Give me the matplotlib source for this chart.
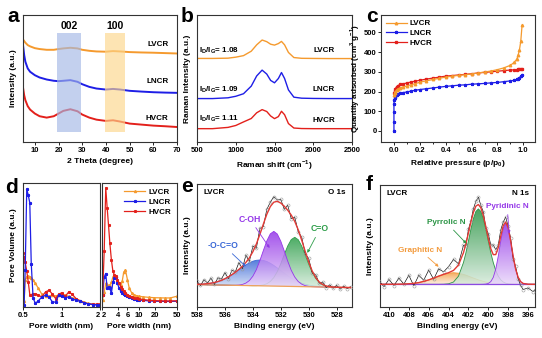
import numpy as np
import matplotlib
matplotlib.use("Agg")
import matplotlib.pyplot as plt
from matplotlib.colors import LinearSegmentedColormap, to_rgb

plt.rcParams.update({
    "font.family": ["Liberation Sans", "DejaVu Sans"],
    "font.weight": "bold",
    "axes.labelweight": "bold",
    "axes.linewidth": 0.8,
    "axes.edgecolor": "#333333",
    "xtick.major.size": 2,
    "xtick.minor.size": 1.2,
    "ytick.major.size": 2,
    "xtick.major.width": 0.6,
    "ytick.major.width": 0.6,
    "xtick.labelsize": 5.5,
    "ytick.labelsize": 5.5,
    "axes.labelsize": 6,
    "xtick.major.pad": 1.5,
    "ytick.major.pad": 1.2,
    "mathtext.fontset": "custom",
    "mathtext.rm": "Liberation Sans:bold",
    "mathtext.bf": "Liberation Sans:bold",
})

C_OR = "#F59A2E"
C_BL = "#1E1EE6"
C_RD = "#E3201B"
samples = ["LVCR", "LNCR", "HVCR"]

# ---------------- (a) XRD ----------------
xrd_2theta = [5, 5.5, 6, 7, 8, 10, 12, 15, 18, 20, 22, 25, 28, 30, 33, 36, 40, 43, 46, 50, 55, 60, 65, 70]
xrd_lvcr = [80.8, 79.5, 78.2, 76.3, 75.3, 73.9, 73.2, 72.6, 72.6, 73.2, 73.7, 74.2, 73.7, 72.6, 71.8, 71.3, 71.1, 71.6, 71.3, 70.8, 70.5, 70.3, 70.0, 69.7]
xrd_lncr = [76.3, 68.4, 63.2, 57.9, 55.3, 52.6, 50.8, 49.2, 48.2, 47.9, 48.2, 48.7, 47.4, 45.5, 43.4, 42.1, 41.3, 41.8, 41.3, 40.3, 39.7, 39.2, 38.9, 38.7]
xrd_hvcr = [42.9, 36.8, 32.9, 28.2, 25.5, 22.4, 20.3, 19.2, 20.3, 22.4, 24.5, 25.8, 24.2, 21.6, 19.2, 17.6, 16.6, 17.1, 16.1, 14.5, 13.7, 12.9, 12.4, 11.8]
xrd_bands = [(19.5, 29.5, "002"), (39.5, 48.0, "100")]

# ---------------- (b) Raman ----------------
raman_shift = [500, 700, 900, 1000, 1100, 1200, 1270, 1340, 1400, 1450, 1500, 1550, 1590, 1630, 1680, 1750, 1850, 2000, 2200, 2500]
raman_lvcr = [65.8, 65.8, 66.0, 66.8, 68.0, 71.5, 76.5, 80.3, 79.0, 77.0, 76.3, 77.5, 79.2, 76.5, 70.5, 66.5, 65.9, 65.8, 65.7, 65.7]
raman_lncr = [34.2, 34.2, 34.8, 36.0, 38.0, 44.0, 52.0, 56.6, 53.5, 48.5, 46.6, 50.0, 54.7, 50.0, 41.0, 35.3, 34.5, 34.3, 34.2, 34.2]
raman_hvcr = [10.5, 10.5, 11.5, 13.0, 15.8, 18.5, 23.0, 25.5, 24.0, 20.5, 18.4, 20.0, 24.2, 21.5, 14.5, 11.0, 10.6, 10.5, 10.5, 10.5]
id_ig = ["1.08", "1.09", "1.11"]

# ---------------- (c) N2 isotherms ----------------
p_rel = [0.002, 0.005, 0.01, 0.02, 0.03, 0.05, 0.07, 0.1, 0.13, 0.16, 0.2, 0.25, 0.3, 0.35, 0.4, 0.45,
         0.5, 0.55, 0.6, 0.65, 0.7, 0.75, 0.8, 0.85, 0.9, 0.93, 0.95, 0.96, 0.97, 0.98, 0.99]
iso_lvcr = [180, 192, 200, 208, 213, 219, 223, 228, 234, 239, 247, 254, 261, 267, 273, 278,
            282, 285, 289, 294, 299, 304, 311, 320, 333, 348, 365, 385, 412, 455, 535]
iso_hvcr = [190, 205, 214, 224, 230, 236, 239, 243, 248, 252, 257, 263, 268, 273, 278, 281,
            284, 287, 290, 294, 297, 300, 303, 306, 309, 310, 311, 312, 312, 313, 314]
p_rel_lncr = [0.0, 0.0, 0.0, 0.0] + p_rel
iso_lncr = [0, 45, 95, 135, 155, 165, 172, 180, 185, 190, 194, 198, 202, 206, 210, 214, 218, 222, 226, 229,
            232, 234, 237, 239, 241, 244, 246, 250, 254, 257, 261, 265, 270, 277, 285]

# ---------------- (d) pore size distribution ----------------
pw_micro = [0.5, 0.51, 0.52, 0.535, 0.55, 0.565, 0.58, 0.6, 0.625, 0.66, 0.7, 0.75, 0.8, 0.85,
            0.9, 0.95, 1.0, 1.07, 1.14, 1.21, 1.3, 1.4, 1.5, 1.6, 1.75, 1.9, 2.0]
pv_micro_lvcr = [3, 5, 22, 24.5, 24.9, 24.5, 23.5, 22, 19, 15, 10.5, 8.6, 9.0, 9.5, 9.0, 9.5, 10.3,
                 9.5, 8.6, 7.5, 6.5, 5, 4, 3, 2.2, 1.8, 1.6]
pv_micro_lncr = [1.0, 1.4, 30, 95, 90, 84, 35, 7, 3, 5, 8, 9.5, 8, 4, 4, 9.5, 8.6, 7.6, 8.1, 6.8,
                 5.4, 4.5, 3.5, 2.7, 2.0, 1.7, 1.6]
pv_micro_hvcr = [43.8, 40, 36, 29, 20, 10, 10, 10.5, 10.8, 9.5, 8.1, 12.2, 13.5, 10.3, 6.8, 10.3,
                 11.4, 8.6, 12.2, 10.3, 6.8, 4.9, 3.5, 2.7, 2.2, 2.2, 2.2]
pw_meso = [2.05, 2.2, 2.35, 2.5, 2.65, 2.8, 3.0, 3.2, 3.4, 3.65, 3.9, 4.2, 4.5, 4.8, 5.1, 5.5, 6.0,
           6.5, 7.2, 8.0, 9.0, 10, 12, 15, 19, 24, 30, 38, 50]
pv_meso_lvcr = [6, 12, 19, 18, 17.5, 17, 20, 24, 25.5, 25, 22, 19, 17.5, 21, 28, 30, 22, 15, 11.5,
                10, 9, 8.6, 8.2, 7.8, 7.5, 7.4, 7.3, 7.3, 8.6]
pv_meso_lncr = [10, 24, 27, 15, 16, 15, 11, 20, 23, 24, 19, 15, 13, 11.5, 10.5, 9.5, 8.5, 7.8, 7,
                6.5, 6, 5.7, 5.3, 5, 4.7, 4.6, 4.5, 4.5, 4.6]
pv_meso_hvcr = [10, 45, 96, 80, 66, 52, 38, 29, 26, 25, 22, 19, 16.5, 14.5, 13, 11.5, 10, 9, 8.2,
                7.5, 7, 6.5, 6, 5.5, 5.2, 5, 4.9, 4.9, 5.0]

# ---------------- (e) O 1s ----------------
o1s_be = [538.0, 537.75, 537.5, 537.25, 537.0, 536.75, 536.5, 536.25, 536.0, 535.75, 535.5, 535.25,
          535.0, 534.75, 534.5, 534.25, 534.0, 533.75, 533.5, 533.25, 533.0, 532.75, 532.5, 532.25,
          532.0, 531.75, 531.5, 531.25, 531.0, 530.75, 530.5, 530.25, 530.0, 529.75, 529.5, 529.25,
          529.0, 528.75, 528.5, 528.25, 528.0, 527.75, 527.5, 527.25, 527.0]
o1s_bg = [18.20, 18.15, 18.09, 18.04, 17.98, 17.93, 17.87, 17.82, 17.76, 17.71, 17.65, 17.60, 17.55,
          17.49, 17.44, 17.38, 17.33, 17.27, 17.22, 17.16, 17.11, 17.05, 17.00, 16.95, 16.89, 16.84,
          16.78, 16.73, 16.67, 16.62, 16.56, 16.51, 16.45, 16.40, 16.35, 16.29, 16.24, 16.18, 16.13,
          16.07, 16.02, 15.96, 15.91, 15.85, 15.80]
o1s_ococ = [0.23, 0.38, 0.60, 0.92, 1.4, 2.0, 2.8, 3.9, 5.2, 6.8, 8.6, 10.6, 12.7, 14.8, 16.8, 18.5,
            19.9, 20.7, 21.0, 20.7, 19.9, 18.5, 16.8, 14.8, 12.7, 10.6, 8.6, 6.8, 5.2, 3.9, 2.8, 2.0,
            1.4, 0.92, 0.60, 0.38, 0.23, 0.14, 0.08, 0.05, 0.03, 0.02, 0.01, 0.0, 0.0]
o1s_coh = [0, 0, 0, 0, 0, 0, 0, 0, 0, 0, 0.04, 0.12, 0.34, 0.85, 2.0, 4.1, 7.7, 13.1, 20.4, 28.7,
           36.6, 42.4, 44.5, 42.4, 36.6, 28.7, 20.4, 13.1, 7.7, 4.1, 2.0, 0.85, 0.34, 0.12, 0.04,
           0, 0, 0, 0, 0, 0, 0, 0, 0, 0]
o1s_co = [0, 0, 0, 0, 0, 0, 0, 0, 0, 0, 0, 0, 0, 0, 0, 0, 0, 0.1, 0.3, 0.77, 1.8, 3.7, 6.9, 11.8,
          18.3, 25.8, 32.9, 38.1, 40.0, 38.1, 32.9, 25.8, 18.3, 11.8, 6.9, 3.7, 1.8, 0.77, 0.3, 0.1,
          0, 0, 0, 0, 0]
o1s_raw = [20.9, 17.5, 22.2, 19.5, 23.4, 18.4, 23.7, 22.7, 28.0, 23.0, 29.8, 28.8, 36.1, 31.1, 42.2,
           37.0, 49.4, 47.7, 63.9, 65.3, 79.4, 85.2, 89.7, 87.0, 87.5, 79.4, 82.7, 71.7, 73.1, 61.2,
           56.8, 43.2, 39.5, 27.7, 26.4, 19.4, 20.3, 15.6, 18.0, 15.2, 17.6, 14.5, 16.9, 14.9, 16.6]

# ---------------- (f) N 1s ----------------
n1s_be = [411.0, 410.5, 410.0, 409.5, 409.0, 408.5, 408.0, 407.5, 407.0, 406.5, 406.0, 405.5, 405.0,
          404.5, 404.0, 403.5, 403.0, 402.5, 402.25, 402.0, 401.75, 401.5, 401.25, 401.0, 400.75,
          400.5, 400.25, 400.0, 399.75, 399.5, 399.25, 399.0, 398.75, 398.5, 398.25, 398.0, 397.75,
          397.5, 397.25, 397.0, 396.75, 396.5, 396.0, 395.5, 395.0]
n1s_bg = 18.6
n1s_graphitic = [0.0, 0.0, 0.01, 0.04, 0.09, 0.20, 0.42, 0.80, 1.4, 2.4, 3.6, 5.1, 6.7, 8.1, 9.1, 9.5,
                 9.1, 8.1, 7.5, 6.7, 5.9, 5.1, 4.4, 3.6, 3.0, 2.4, 1.9, 1.4, 1.1, 0.80, 0.59, 0.42,
                 0.29, 0.20, 0.13, 0.09, 0.06, 0.04, 0.02, 0.01, 0.0, 0.0, 0.0, 0.0, 0.0]
n1s_pyrrolic = [0, 0, 0, 0, 0, 0, 0, 0, 0, 0, 0, 0, 0, 0.07, 0.42, 1.9, 6.7, 17.8, 25.9, 35.4, 45.2,
                53.8, 59.7, 61.8, 59.7, 53.8, 45.2, 35.4, 25.9, 17.8, 11.3, 6.7, 3.7, 1.9, 0.94, 0.42,
                0.18, 0.07, 0.03, 0, 0, 0, 0, 0, 0]
n1s_pyridinic = [0, 0, 0, 0, 0, 0, 0, 0, 0, 0, 0, 0, 0, 0, 0, 0, 0, 0, 0, 0, 0, 0, 0, 0, 0, 0.05,
                 0.20, 0.71, 2.2, 5.7, 12.5, 22.9, 35.4, 45.9, 50.0, 45.9, 35.4, 22.9, 12.5, 5.7, 2.2,
                 0.71, 0.05, 0, 0]
n1s_raw = [21.6, 16.6, 22.6, 17.6, 23.7, 18.8, 26.0, 17.4, 26.0, 22.0, 30.2, 22.7, 31.3, 28.8, 33.1,
           39.0, 35.4, 50.5, 50.0, 63.7, 70.7, 80.5, 86.6, 90.0, 83.3, 77.9, 64.9, 60.1, 50.8, 50.9,
           47.0, 50.6, 63.0, 69.6, 73.7, 66.0, 56.3, 39.6, 33.2, 23.3, 17.8, 14.3, 15.6, 12.6, 16.6]

# ---------------- figure ----------------
W, H = 542, 338
fig = plt.figure(figsize=(W / 100, H / 100), dpi=100)


def box(l, t, r, b):
    return [l / W, 1 - b / H, (r - l) / W, (b - t) / H]


def letter(x, y, s):
    fig.text(x / W, 1 - y / H, s, fontsize=15, fontweight="bold", ha="center", va="center")


def grad_fill(ax, x, lo, hi, color, z):
    x = np.asarray(x, float)
    lo = np.asarray(lo, float)
    hi = np.asarray(hi, float)
    poly = ax.fill_between(x, lo, hi, facecolor="none", edgecolor="none", zorder=z)
    c = np.array(to_rgb(color))
    cmap = LinearSegmentedColormap.from_list("g", [c + (1 - c) * 0.8, c])
    im = ax.imshow(np.linspace(0, 1, 64).reshape(-1, 1),
                   extent=(x.min(), x.max(), lo.min(), hi.max()),
                   origin="lower", aspect="auto", cmap=cmap, alpha=0.85,
                   zorder=z, interpolation="bilinear")
    im.set_clip_path(poly.get_paths()[0], transform=ax.transData)
    ax.plot(x, hi, color=color, lw=0.6, zorder=z + 0.1)


# (a)
ax = fig.add_axes(box(23, 15, 177, 142))
for y, c in zip([xrd_lvcr, xrd_lncr, xrd_hvcr], [C_OR, C_BL, C_RD]):
    ax.plot(xrd_2theta, y, color=c, lw=1.4, zorder=2)
band_cols = ["#A3B8E6", "#FDD68A"]
for (lo, hi, lab), bc in zip(xrd_bands, band_cols):
    ax.axvspan(lo, hi, ymin=0.079, ymax=0.855, color=bc, alpha=0.65, lw=0, zorder=3)
    ax.text((lo + hi) / 2, 91.5, lab, ha="center", va="center", fontsize=7.5, fontweight="bold")
for s, yy in zip(samples, [77.0, 47.4, 18.4]):
    ax.text(66.5, yy, s, ha="right", va="center", fontsize=5.8, fontweight="bold")
ax.set_xlim(5, 70)
ax.set_ylim(0, 100)
ax.set_yticks([])
ax.set_xticks([10, 20, 30, 40, 50, 60, 70])
ax.set_xlabel("2 Theta (degree)", labelpad=3)
ax.set_ylabel("Intensity (a.u.)", labelpad=4)
letter(13, 16, "a")

# (b)
ax = fig.add_axes(box(197, 15, 352, 142))
for y, c in zip([raman_lvcr, raman_lncr, raman_hvcr], [C_OR, C_BL, C_RD]):
    ax.plot(raman_shift, y, color=c, lw=1.0)
for r, yy in zip(id_ig, [71.8, 41.3, 18.4]):
    ax.text(530, yy, r"I$_\mathbf{D}$/I$_\mathbf{G}$= " + r, ha="left", va="center", fontsize=5.8)
for s, yy in zip(samples, [71.8, 41.3, 17.0]):
    ax.text(2140, yy, s, ha="center", va="center", fontsize=5.8, fontweight="bold")
ax.set_xlim(500, 2500)
ax.set_ylim(0, 100)
ax.set_yticks([])
ax.set_xticks([500, 1000, 1500, 2000, 2500])
ax.set_xlabel(r"Raman shift (cm$^{\mathbf{-1}}$)", labelpad=3)
ax.set_ylabel("Raman Intensity (a.u.)", labelpad=4)
letter(187, 16, "b")

# (c)
ax = fig.add_axes(box(381, 15, 535, 142))
ax.plot(p_rel, iso_lvcr, color=C_OR, lw=0.9, marker="^", ms=1.8, label="LVCR", zorder=3)
ax.plot(p_rel_lncr, iso_lncr, color=C_BL, lw=0.9, marker="*", ms=2.2, label="LNCR", zorder=2)
ax.plot(p_rel, iso_hvcr, color=C_RD, lw=0.9, marker="s", ms=1.4, label="HVCR", zorder=2)
ax.set_xlim(-0.1, 1.09)
ax.set_ylim(-56, 588)
ax.set_xticks([0.0, 0.2, 0.4, 0.6, 0.8, 1.0])
ax.set_xticks([0.1, 0.3, 0.5, 0.7, 0.9], minor=True)
ax.set_yticks([0, 100, 200, 300, 400, 500])
ax.set_xlabel(r"Relative pressure (p/p$_{\mathbf{0}}$)", labelpad=3)
ax.set_ylabel(r"Quantity adsorbed (cm$^{\mathbf{3}}$ g$^{\mathbf{-1}}$)", labelpad=1, fontsize=5.8)
ax.legend(loc="upper left", frameon=False, fontsize=5.8, handlelength=2.6,
          borderaxespad=0.2, labelspacing=0.25, handletextpad=0.4)
letter(372, 16, "c")

# (d) micropores
axl = fig.add_axes(box(23, 183, 100, 307))
axl.plot(pw_micro, pv_micro_lvcr, color=C_OR, lw=0.9, marker="^", ms=1.5)
axl.plot(pw_micro, pv_micro_hvcr, color=C_RD, lw=0.9, marker="s", ms=1.2)
axl.plot(pw_micro, pv_micro_lncr, color=C_BL, lw=0.9, marker="*", ms=2.0)
axl.set_xscale("log")
axl.set_xlim(0.5, 2.0)
axl.set_ylim(0, 100)
axl.set_xticks([0.5, 1, 2])
axl.set_xticklabels(["0.5", "1", "2"])
axl.get_xticklabels()[-1].set_horizontalalignment("right")
axl.xaxis.set_minor_locator(matplotlib.ticker.NullLocator())
axl.set_yticks([])
axl.set_xlabel("Pore width (nm)", labelpad=3)
axl.set_ylabel("Pore Volume (a.u.)", labelpad=4)

# (d) mesopores
axr = fig.add_axes(box(102, 183, 177, 307))
axr.plot(pw_meso, pv_meso_lvcr, color=C_OR, lw=0.9, marker="^", ms=1.5, label="LVCR")
axr.plot(pw_meso, pv_meso_lncr, color=C_BL, lw=0.9, marker="*", ms=2.0, label="LNCR")
axr.plot(pw_meso, pv_meso_hvcr, color=C_RD, lw=0.9, marker="s", ms=1.2, label="HVCR")
axr.set_xscale("log")
axr.set_xlim(2.0, 51)
axr.set_ylim(0, 100)
axr.set_xticks([2, 4, 6, 10, 20, 50])
axr.set_xticklabels(["2", "4", "6", "10", "20", "50"])
axr.get_xticklabels()[0].set_horizontalalignment("left")
axr.xaxis.set_minor_locator(matplotlib.ticker.NullLocator())
axr.set_yticks([])
axr.set_xlabel("Pore width (nm)", labelpad=3)
axr.legend(loc="upper right", frameon=False, fontsize=5.8, handlelength=2.6,
           borderaxespad=0.3, labelspacing=0.25, handletextpad=0.4)
letter(12, 187, "d")

# (e) O 1s
C_EB, C_EP, C_EG = "#3A68D6", "#9436E8", "#2E9E4A"
ax = fig.add_axes(box(197, 184, 352, 307))
bg = np.array(o1s_bg)
comps = [np.array(o1s_ococ), np.array(o1s_coh), np.array(o1s_co)]
grad_fill(ax, o1s_be, bg, bg + comps[0], C_EB, 2)
grad_fill(ax, o1s_be, bg, bg + comps[2], C_EG, 2.3)
grad_fill(ax, o1s_be, bg, bg + comps[1], C_EP, 2.6)
ax.plot(o1s_be, bg, color="#EFA15A", lw=0.9, zorder=3)
ax.plot(o1s_be, o1s_raw, color="black", lw=0.45, zorder=4)
ax.plot(o1s_be, o1s_raw, ls="none", marker="o", ms=2.2, mfc="none", mec="#9A9A9A", mew=0.4, zorder=4)
ax.plot(o1s_be, bg + comps[0] + comps[1] + comps[2], color="#E23A35", lw=1.0, zorder=5)
arrow = dict(arrowstyle="-|>", lw=0.6, mutation_scale=4, shrinkA=1, shrinkB=0)
ax.annotate("-O-C=O", xy=(534.5, 33), xytext=(536.1, 50), color=C_EB, fontsize=6.2,
            ha="center", va="center", arrowprops=dict(arrow, color=C_EB), zorder=6)
ax.annotate("C-OH", xy=(532.8, 48), xytext=(534.2, 71.4), color=C_EP, fontsize=6.2,
            ha="center", va="center", arrowprops=dict(arrow, color=C_EP), zorder=6)
ax.annotate("C=O", xy=(530.1, 44), xytext=(529.2, 63.5), color=C_EG, fontsize=6.2,
            ha="center", va="center", arrowprops=dict(arrow, color=C_EG), zorder=6)
ax.text(0.04, 0.93, "LVCR", transform=ax.transAxes, fontsize=5.8, va="center", ha="left")
ax.text(0.96, 0.93, "O 1s", transform=ax.transAxes, fontsize=5.8, va="center", ha="right")
ax.set_xlim(538, 526.9)
ax.set_ylim(0, 100)
ax.set_xticks([538, 536, 534, 532, 530, 528])
ax.set_yticks([])
ax.set_xlabel("Binding energy (eV)", labelpad=3)
ax.set_ylabel("Intensity (a.u.)", labelpad=4)
letter(187, 186, "e")

# (f) N 1s
C_FO, C_FG, C_FP = "#F39A3C", "#2A9444", "#9436E8"
ax = fig.add_axes(box(380, 185, 535, 307))
nb = np.full(len(n1s_be), n1s_bg)
ncomps = [np.array(n1s_graphitic), np.array(n1s_pyrrolic), np.array(n1s_pyridinic)]
grad_fill(ax, n1s_be, nb, nb + ncomps[0], C_FO, 2)
grad_fill(ax, n1s_be, nb, nb + ncomps[1], C_FG, 2.3)
grad_fill(ax, n1s_be, nb, nb + ncomps[2], C_FP, 2.6)
ax.plot(n1s_be, nb, color="#8B4BE0", lw=0.9, zorder=3)
ax.plot(n1s_be, n1s_raw, color="black", lw=0.45, zorder=4)
ax.plot(n1s_be, n1s_raw, ls="none", marker="o", ms=2.2, mfc="none", mec="#9A9A9A", mew=0.4, zorder=4)
ax.plot(n1s_be, nb + ncomps[0] + ncomps[1] + ncomps[2], color="#E23A35", lw=1.0, zorder=5)
ax.annotate("Pyrrolic N", xy=(402.2, 52), xytext=(404.2, 69), color=C_FG, fontsize=5.9,
            ha="center", va="center", arrowprops=dict(arrow, color=C_FG), zorder=6)
ax.annotate("Graphitic N", xy=(405.0, 33), xytext=(406.9, 46.6), color=C_FO, fontsize=5.9,
            ha="center", va="center", arrowprops=dict(arrow, color=C_FO), zorder=6)
ax.annotate("Pyridinic N", xy=(397.9, 60), xytext=(398.1, 82), color=C_FP, fontsize=5.9,
            ha="center", va="center", arrowprops=dict(arrow, color=C_FP), zorder=6)
ax.text(0.04, 0.93, "LVCR", transform=ax.transAxes, fontsize=5.8, va="center", ha="left")
ax.text(0.96, 0.93, "N 1s", transform=ax.transAxes, fontsize=5.8, va="center", ha="right")
ax.set_xlim(410.9, 395.3)
ax.set_ylim(0, 100)
ax.set_xticks([410, 408, 406, 404, 402, 400, 398, 396])
ax.set_yticks([])
ax.set_xlabel("Binding energy (eV)", labelpad=3)
ax.set_ylabel("Intensity (a.u.)", labelpad=4)
letter(369, 185, "f")

fig.savefig("out.png", dpi=100)
